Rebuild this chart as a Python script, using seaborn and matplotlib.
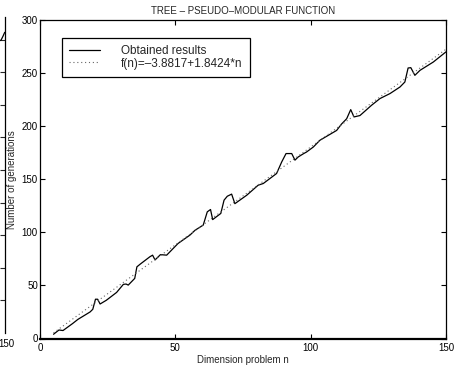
import matplotlib
matplotlib.use("Agg")
import matplotlib.pyplot as plt
import matplotlib.transforms as mtransforms
import seaborn as sns
import numpy as np

# ---- data ----
n_vals = [5, 7, 8.5, 12, 14, 18.5, 19.5, 20.5, 21.3, 22.2, 24.5, 28.3, 30.8, 31.8, 32.6,
          35, 35.8, 37, 40.6, 41.6, 42.5, 44.5, 46.8, 51, 55.4, 57.3, 60.3, 61.8, 63, 63.8,
          66.8, 68, 69.2, 70.8, 72, 76.4, 80.6, 82.5, 87.4, 89.3, 90.9, 93, 94.2, 95.4,
          97.3, 98.5, 101, 103.4, 109.6, 111.4, 113.3, 114.8, 116, 118.2, 122.5, 125.6,
          129.3, 133, 134.8, 136, 137, 138.5, 140.4, 145.3, 150]
gen_vals = [4, 8, 7.5, 14, 18, 25, 27.5, 37, 37, 32.5, 36, 43.4, 51, 51.3, 50.3,
            56.6, 67.5, 70, 77, 78.5, 74, 79, 78.5, 89.5, 97.4, 102, 106.8, 119.3, 121.5, 112,
            117.8, 130.3, 134, 136, 127, 135, 144.4, 146, 155.4, 166.3, 174.2, 174.2, 168, 171,
            174, 175.7, 180.4, 186.7, 196, 202, 207, 215.6, 208.7, 210, 219.7, 226,
            230.7, 236.9, 241.6, 254.8, 255.1, 247.9, 252.6, 260.4, 270]
fit_a, fit_b = -3.8817, 1.8424
fit_n = [5, 150]
fit_vals = [fit_a + fit_b * x for x in fit_n]

x_ticks = [0, 50, 100, 150]
y_ticks = [0, 50, 100, 150, 200, 250, 300]

# fragment of neighbouring chart (cropped at left edge)
frag_n = [147.5, 148.5, 149.3, 150]
frag_v = [8.95, 8.98, 9.1, 9.22]

sns.set_theme(style="ticks")
plt.rcParams['font.family'] = ['Liberation Sans', 'DejaVu Sans']
plt.rcParams['axes.linewidth'] = 0.9

W, H = 459, 367
fig = plt.figure(figsize=(W / 100, H / 100), dpi=100)
ax = fig.add_axes([40 / W, (H - 338.5) / H, (446 - 40) / W, (338.5 - 20) / H])

sns.lineplot(x=n_vals, y=gen_vals, ax=ax, color='black', linewidth=0.9,
             label='Obtained results')
sns.lineplot(x=fit_n, y=fit_vals, ax=ax, color='0.4', linewidth=0.8,
             linestyle=(0, (1, 2.5)), label='f(n)=\u20133.8817+1.8424*n')

ax.set_xlim(0, 150)
ax.set_ylim(0, 300)
ax.set_xticks(x_ticks)
ax.set_yticks(y_ticks)
ax.tick_params(direction='in', top=True, right=True, length=3.5, width=0.8,
               labelsize=7, colors='black')
ax.tick_params(axis='y', pad=1.5)
ax.tick_params(axis='x', pad=3.5)
for s in ax.spines.values():
    s.set_visible(True)
    s.set_color('black')
ax.spines['bottom'].set_linewidth(1.6)

ax.set_title('TREE \u2013 PSEUDO\u2013MODULAR FUNCTION', fontsize=7, pad=4)
ax.set_xlabel('Dimension problem n', fontsize=7, labelpad=1)
ax.set_ylabel('Number of generations', fontsize=7, labelpad=3.5)

leg = ax.legend(loc='upper left', bbox_to_anchor=(22 / 406, 0.5, 188 / 406, 0.444),
                mode='expand', borderaxespad=0, fancybox=False, framealpha=1,
                edgecolor='black', fontsize=8.5, handlelength=2.6, handletextpad=1.8,
                labelspacing=0.05, borderpad=0.6)
leg.get_frame().set_linewidth(0.9)

# cropped neighbour chart at far left
frag = fig.add_axes([4.7 / W - 0.8, (H - 333) / H, 0.8, (333 - 17) / H])
frag.plot(frag_n, frag_v, color='black', linewidth=0.9)
frag.set_xlim(0, 150)
frag.set_ylim(0, 9.69)
for k, s in frag.spines.items():
    s.set_visible(k == 'right')
frag.spines['right'].set_color('black')
frag.yaxis.tick_right()
frag.set_yticks(list(range(1, 10)))
frag.tick_params(axis='y', direction='in', length=3.5, width=0.8, labelright=False)
frag.set_xticks([150])
frag.set_xticklabels(['150'])
frag.tick_params(axis='x', length=0, labelsize=7, pad=4, colors='black')
shift = mtransforms.ScaledTranslation(2.0 / 100, 0, fig.dpi_scale_trans)
for lab in frag.get_xticklabels():
    lab.set_transform(lab.get_transform() + shift)
frag.patch.set_alpha(0)

fig.savefig('out.png', dpi=100)
